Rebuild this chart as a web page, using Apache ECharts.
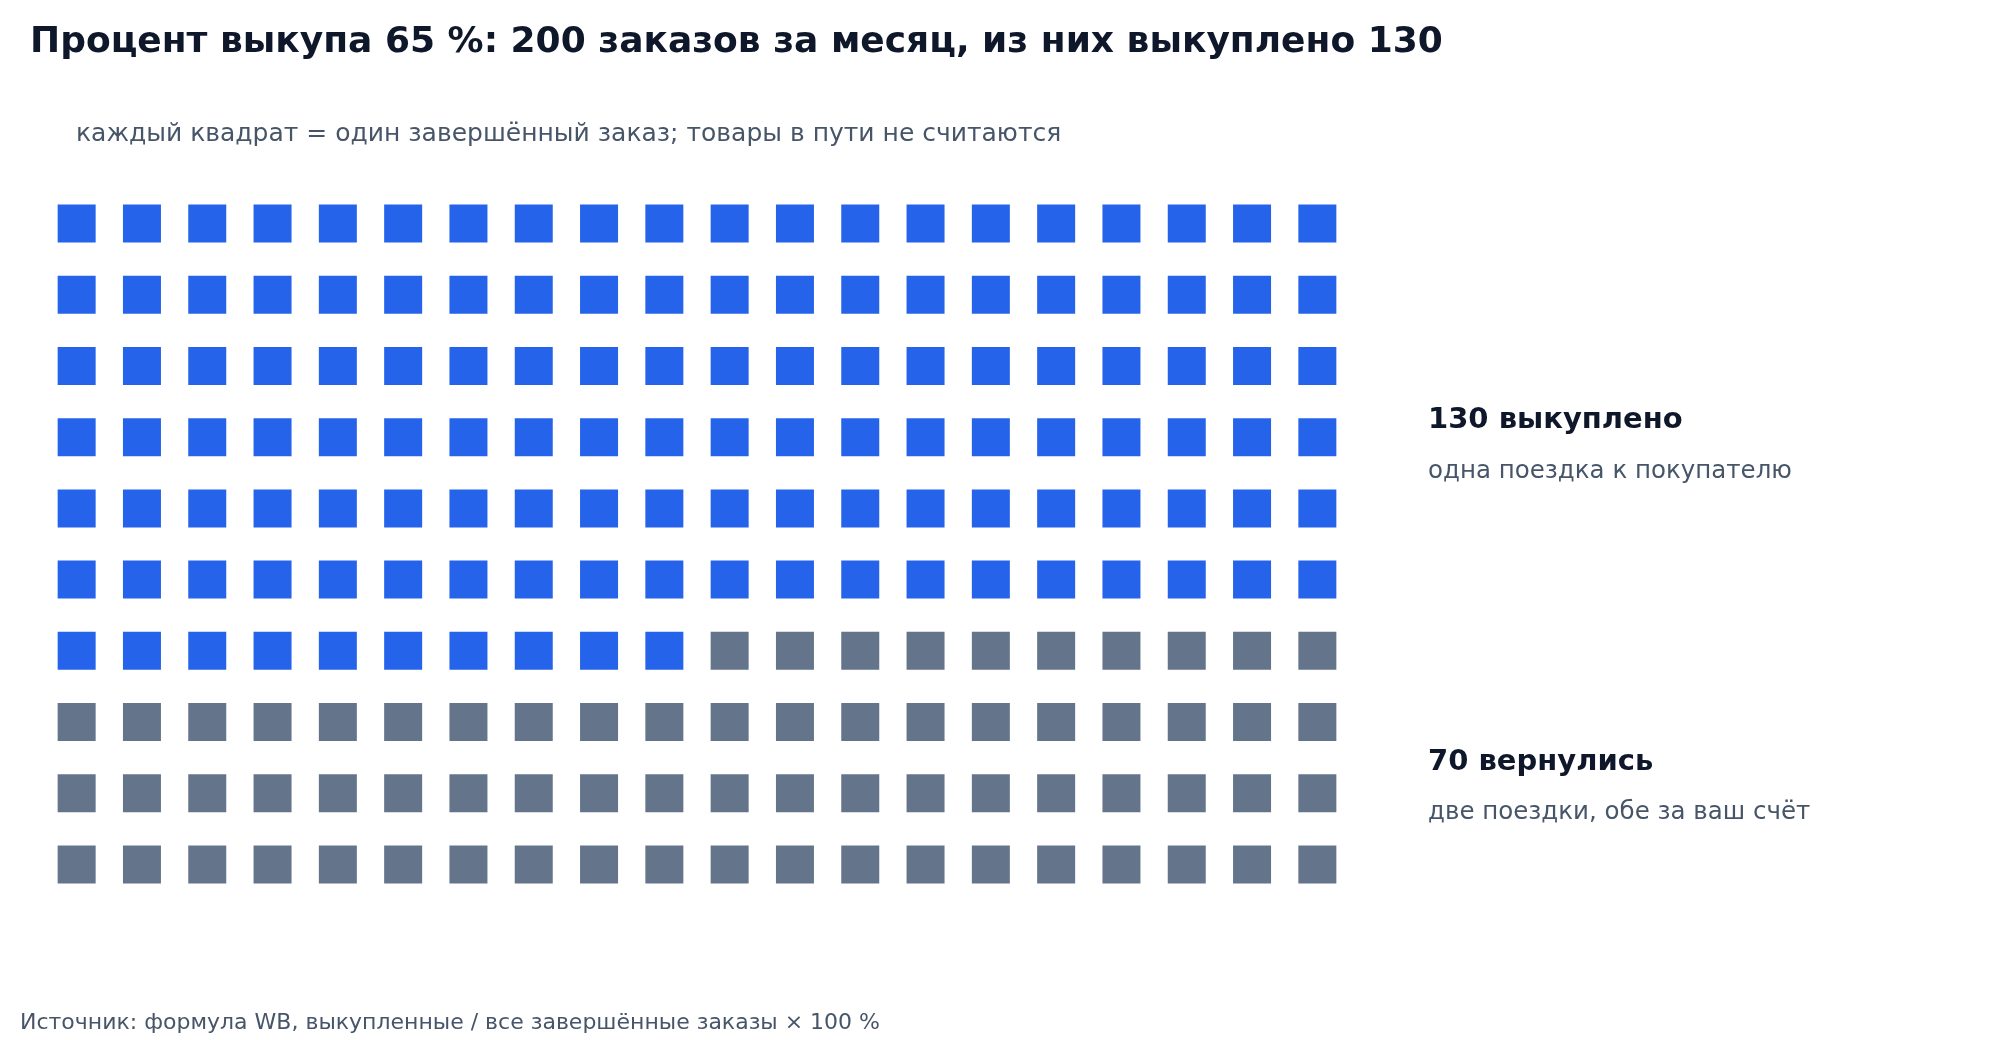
<!DOCTYPE html>
<html><head><meta charset="utf-8">
<script src="https://cdn.jsdelivr.net/npm/echarts@6/dist/echarts.min.js"></script>
<style>html,body{margin:0;padding:0;background:#fff}#c{width:2000px;height:1040px}</style>
</head><body><div id="c"></div>
<script>
const categories = ['выкуплено', 'вернулись'];
const counts = [130, 70];
const colors = ['#2563eb', '#64748b'];
const columns = 20;
const rows = 10;
const labelTitles = ['130 выкуплено', '70 вернулись'];
const labelNotes = ['одна поездка к покупателю', 'две поездки, обе за ваш счёт'];

const seriesData = categories.map(() => []);
let idx = 0;
counts.forEach((n, s) => {
  for (let k = 0; k < n; k++, idx++) {
    seriesData[s].push([idx % columns, Math.floor(idx / columns)]);
  }
});
const xCats = Array.from({length: columns}, (_, i) => i);
const yCats = Array.from({length: rows}, (_, i) => i);
const font = 'DejaVu Sans';

const chart = echarts.init(document.getElementById('c'));
chart.setOption({
  backgroundColor: '#fff',
  animation: false,
  textStyle: {fontFamily: font},
  grid: {left: 44, top: 188, width: 1306, height: 712},
  xAxis: {type: 'category', data: xCats, show: false},
  yAxis: {type: 'category', data: yCats, inverse: true, show: false},
  series: categories.map((c, s) => ({
    name: c, type: 'scatter', symbol: 'rect', symbolSize: 38,
    itemStyle: {color: colors[s], opacity: 1}, data: seriesData[s]
  })),
  graphic: [
    {type: 'text', left: 30, top: 25, style: {text: 'Процент выкупа 65 %: 200 заказов за месяц, из них выкуплено 130', font: 'bold 36px "DejaVu Sans"', fill: '#0f172a'}},
    {type: 'text', left: 76, top: 122, style: {text: 'каждый квадрат = один завершённый заказ; товары в пути не считаются', font: '25px "DejaVu Sans"', fill: '#475569'}},
    {type: 'text', left: 1428, top: 406, style: {text: labelTitles[0], font: 'bold 29px "DejaVu Sans"', fill: '#0f172a'}},
    {type: 'text', left: 1428, top: 459, style: {text: labelNotes[0], font: '24.5px "DejaVu Sans"', fill: '#475569'}},
    {type: 'text', left: 1428, top: 748, style: {text: labelTitles[1], font: 'bold 29px "DejaVu Sans"', fill: '#0f172a'}},
    {type: 'text', left: 1428, top: 800, style: {text: labelNotes[1], font: '24.5px "DejaVu Sans"', fill: '#475569'}},
    {type: 'text', left: 20, top: 1012, style: {text: 'Источник: формула WB, выкупленные / все завершённые заказы × 100 %', font: '22px "DejaVu Sans"', fill: '#475569'}}
  ]
});
</script></body></html>
